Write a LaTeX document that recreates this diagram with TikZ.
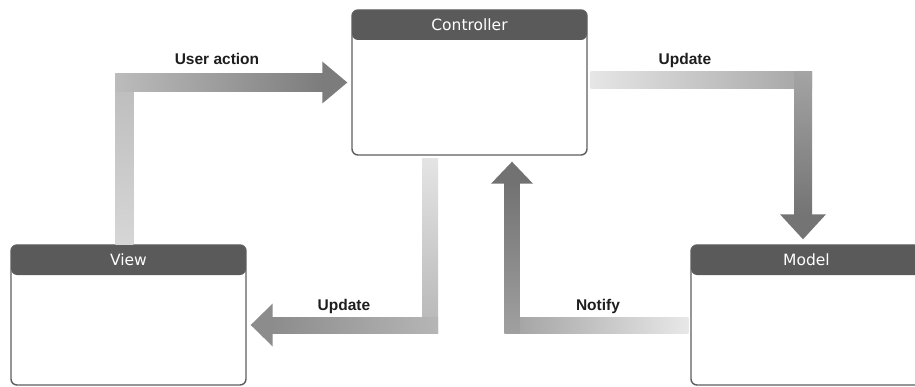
\documentclass[tikz,border=0pt]{standalone}
\usepackage{fontspec}
\setmainfont{Liberation Sans}
\newfontfamily\titlefont{DejaVu Sans}
\usetikzlibrary{calc}

% panel colours
\definecolor{hdr}{HTML}{5A5A5A}
\definecolor{edge}{HTML}{5E5E5E}
\definecolor{labelink}{HTML}{1E1E1E}
% arrow shades: light start, corner, dark end
\definecolor{uaA}{HTML}{D6D6D6}
\definecolor{uaB}{HTML}{BCBCBC}
\definecolor{uaC}{HTML}{7C7C7C}
\definecolor{upA}{HTML}{E6E6E6}
\definecolor{upB}{HTML}{A4A4A4}
\definecolor{upC}{HTML}{747474}
\definecolor{buA}{HTML}{E4E4E4}
\definecolor{buB}{HTML}{B6B6B6}
\definecolor{buC}{HTML}{8C8C8C}
\definecolor{nA}{HTML}{E8E8E8}
\definecolor{nB}{HTML}{A0A0A0}
\definecolor{nC}{HTML}{727272}

\begin{document}
\begin{tikzpicture}[x=1pt,y=-1pt,
  panel/.style={draw=edge, line width=1.4pt, rounded corners=6pt, fill=white,
    minimum width=235pt, minimum height=140pt, inner sep=0pt,
    path picture={\fill[hdr] (path picture bounding box.north west)
      rectangle ([yshift=-30pt]path picture bounding box.north east);}},
  paneltitle/.style={text=white, font=\titlefont\fontsize{15.5}{18}\selectfont,
    inner sep=0pt, anchor=center},
  flowlabel/.style={text=labelink, font=\bfseries\fontsize{15.5}{18}\selectfont,
    inner sep=0pt, anchor=base}
]
\useasboundingbox (0,0) rectangle (915,387);
\clip (0,0) rectangle (915,387);

% the three panels
\node[panel, minimum height=145pt] (ctrl) at (469.5,82.5) {};
\node[panel] (view) at (128.5,315) {};
\node[panel] (model) at (808.5,315) {};
\node[paneltitle] (ctrlT) at ($(ctrl.north)+(0,15)$) {Controller};
\node[paneltitle] (viewT) at ($(view.north)+(0,15)$) {View};
\node[paneltitle] (modelT) at ($(model.north)+(-2,15)$) {Model};

% User action: View -> Controller
\coordinate (uaS) at ($(view.north west)+(105,0)$);
\coordinate (uaT) at ($(ctrl.west)+(-4,0)$);
\shade[bottom color=uaA, top color=uaB] (uaS) rectangle ($(uaS |- uaT)+(18,-9)$);
\shade[left color=uaB, right color=uaC] ($(uaS |- uaT)+(0,-9)$) rectangle ($(uaT)+(-24,9)$);
\fill[uaC] (uaT) -- ++(-25,-21) -- ++(0,42) -- cycle;

% Update: Controller -> Model
\coordinate (upS) at ($(ctrl.east)+(3,-2.5)$);
\coordinate (upT) at ($(model.north)+(-5.5,-5)$);
\shade[left color=upA, right color=upB] ($(upS)+(0,-8.5)$) rectangle ($(upT |- upS)+(9,8.5)$);
\shade[top color=upB, bottom color=upC] ($(upT |- upS)+(-9,-8.5)$) rectangle ($(upT)+(9,-24)$);
\fill[upC] (upT) -- ++(-23,-25) -- ++(46,0) -- cycle;

% Update: Controller -> View
\coordinate (buS) at ($(ctrl.south)+(-39.5,3)$);
\coordinate (buT) at ($(view.east)+(4,10)$);
\shade[top color=buA, bottom color=buB] ($(buS)+(-8,0)$) rectangle ($(buS |- buT)+(8,8)$);
\shade[right color=buB, left color=buC] ($(buS |- buT)+(8,-8)$) rectangle ($(buT)+(21,8)$);
\fill[buC] (buT) -- ++(22,-21.5) -- ++(0,43) -- cycle;

% Notify: Model -> Controller
\coordinate (nS) at ($(model.west)+(-2,10)$);
\coordinate (nT) at ($(ctrl.south)+(42.5,6)$);
\shade[right color=nA, left color=nB] ($(nS)+(0,-8)$) rectangle ($(nT |- nS)+(-7.5,8)$);
\shade[bottom color=nB, top color=nC] ($(nT |- nS)+(-7.5,8)$) rectangle ($(nT)+(7.5,21)$);
\fill[nC] (nT) -- ++(-21,22) -- ++(42,0) -- cycle;

% flow labels
\node[flowlabel] (uaL) at (217,65) {User action};
\node[flowlabel] (upL) at (685,65) {Update};
\node[flowlabel] (buL) at (344,310) {Update};
\node[flowlabel] (nL) at (598,310) {Notify};
\end{tikzpicture}
\end{document}
